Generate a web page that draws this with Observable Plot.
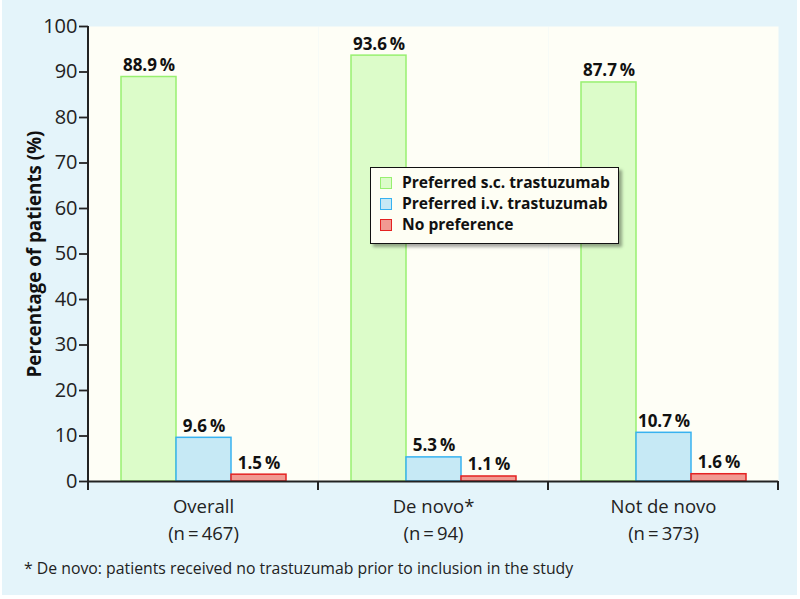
<!DOCTYPE html>
<html><head><meta charset="utf-8">
<script src="https://cdn.jsdelivr.net/npm/d3@7"></script>
<script src="https://cdn.jsdelivr.net/npm/@observablehq/plot@0.6"></script>
<style>
body{margin:0;background:#fff;font-family:"Open Sans",sans-serif;}
#bg{position:absolute;left:2px;top:0;width:795px;height:595px;background:#e4f4fa;}
#chart{position:absolute;left:0;top:0;}
#legend{position:absolute;left:370px;top:167px;width:247px;height:75px;background:#fefef4;border:1.5px solid #111;box-shadow:3px 3px 3px rgba(0,0,0,.35);font-weight:700;font-size:15.6px;color:#111;}
.item{position:absolute;left:9px;height:21px;line-height:21px;white-space:nowrap;}
.sw{display:inline-block;width:10px;height:10px;border:1.5px solid;vertical-align:-1px;margin-right:10px;}
#foot{position:absolute;left:24px;top:557px;font-size:15.8px;color:#222;white-space:nowrap;}
</style>
</head><body>
<div id="bg"></div>
<div id="chart"></div>
<div id="legend"></div>
<div id="foot"></div>
<script>
const groups = ["Overall", "De novo*", "Not de novo"];
const groupN = ["(n\u2009=\u2009467)", "(n\u2009=\u200994)", "(n\u2009=\u2009373)"];
const series = ["Preferred s.c. trastuzumab", "Preferred i.v. trastuzumab", "No preference"];
const scValues = [88.9, 93.6, 87.7];
const ivValues = [9.6, 5.3, 10.7];
const npValues = [1.5, 1.1, 1.6];
const yTicks = [0, 10, 20, 30, 40, 50, 60, 70, 80, 90, 100];
const fills = ["#dcfcc9", "#c6e9f5", "#f19a92"];
const strokes = ["#98f070", "#38b2f0", "#e42222"];
const yLabel = "Percentage of patients (%)";
const footnote = "* De novo: patients received no trastuzumab prior to inclusion in the study";

const valueSets = [scValues, ivValues, npValues];
const data = groups.flatMap((g, i) => series.map((s, j) => ({group: g, series: s, si: j, value: valueSets[j][i]})));

const font = "'Open Sans', sans-serif";
const plot = Plot.plot({
  width: 800, height: 599,
  marginLeft: 87, marginRight: 21, marginTop: 26, marginBottom: 118,
  style: {background: "transparent", fontFamily: font, overflow: "visible", color: "#222"},
  fx: {domain: groups, padding: 0, axis: null},
  x: {domain: series, paddingInner: 0, paddingOuter: 0.56, axis: null},
  y: {domain: [0, 100], axis: null},
  color: {type: "identity"},
  marks: [
    Plot.frame({fill: "#fefef6", stroke: null}),
    Plot.barY(data, {fx: "group", x: "series", y: "value", fill: d => fills[d.si], stroke: d => strokes[d.si], strokeWidth: 1.5}),
    Plot.text(data, {fx: "group", x: "series", y: "value", text: d => d.value.toFixed(1) + "\u2009%", lineAnchor: "bottom", dy: -6, fontWeight: 700, fontSize: 17, fill: "#111"}),
    Plot.ruleY([0], {stroke: "#222", strokeWidth: 2}),
    Plot.axisY({ticks: yTicks, tickSize: 9, tickPadding: 2, fontSize: 20, strokeWidth: 1.8, stroke: "#222", label: null}),
    Plot.text(groups, {fx: d => d, text: (d, i) => d + "\n" + groupN[i], frameAnchor: "bottom", lineAnchor: "top", dy: 12, fontSize: 18.5, lineHeight: 1.48, fill: "#222"}),
    Plot.text([yLabel], {facet: "super", frameAnchor: "left", textAnchor: "middle", rotate: -90, dx: -54, fontWeight: 700, fontSize: 18.8, fill: "#111"})
  ]
});
document.getElementById("chart").appendChild(plot);

// axis lines and group boundary ticks from the library's scales
const fxs = plot.scale("fx"), ys = plot.scale("y");
const svg = d3.select(plot);
const y0 = ys.apply(0), y100 = ys.apply(100);
const left = fxs.apply(groups[0]);
svg.append("line").attr("x1", left).attr("x2", left).attr("y1", y100).attr("y2", y0 + 9)
  .attr("stroke", "#222").attr("stroke-width", 2);
groups.forEach(g => {
  const xr = fxs.apply(g) + fxs.bandwidth;
  svg.append("line").attr("x1", xr).attr("x2", xr).attr("y1", y0).attr("y2", y0 + 9)
    .attr("stroke", "#222").attr("stroke-width", 2);
});

// legend
const leg = d3.select("#legend");
series.forEach((s, j) => {
  const it = leg.append("div").attr("class", "item").style("top", (4 + j * 21) + "px");
  it.append("span").attr("class", "sw").style("background", fills[j]).style("border-color", strokes[j]);
  it.append("span").text(s);
});
document.getElementById("foot").textContent = footnote;
</script>
</body></html>
